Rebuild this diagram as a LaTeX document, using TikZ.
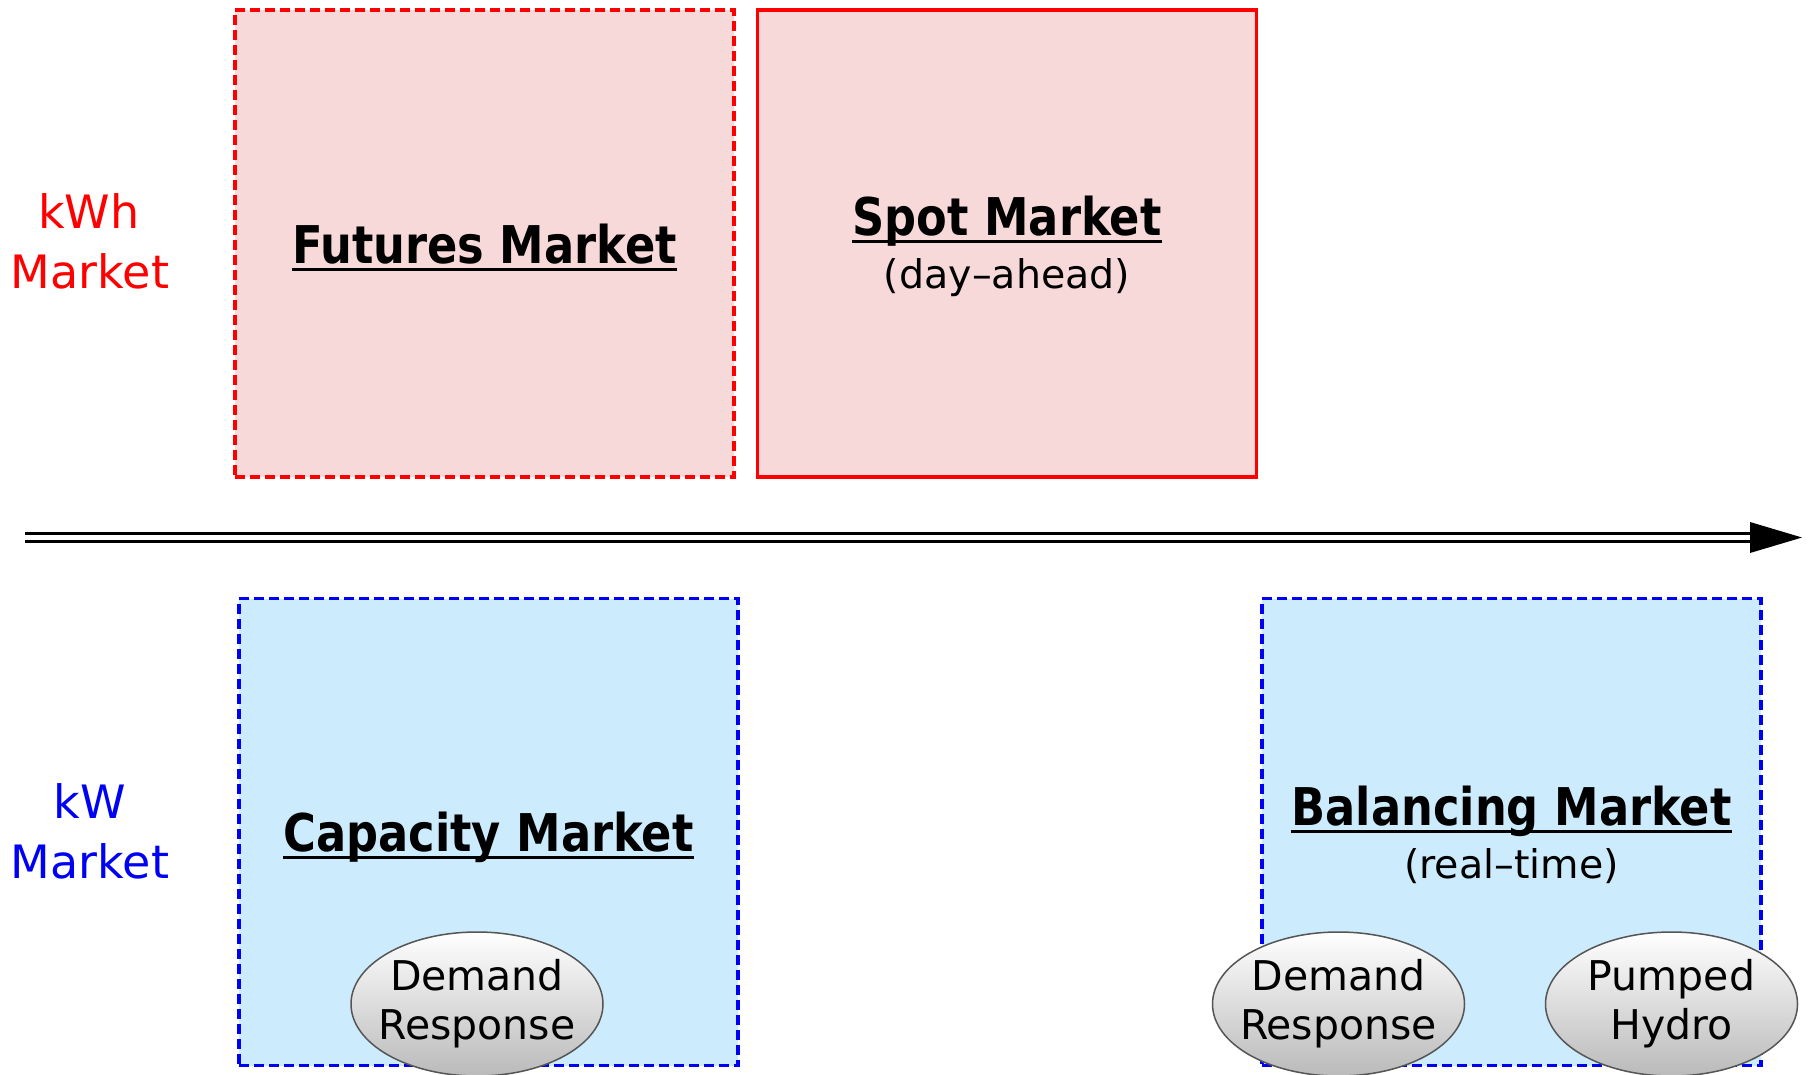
\documentclass[tikz,border=0pt]{standalone}
\usepackage{fontspec}
\setmainfont{DejaVu Sans}
\newfontfamily\ttlfont[FakeStretch=0.86]{DejaVu Sans}
\usetikzlibrary{shapes.geometric}
\definecolor{pinkfill}{HTML}{F7D9DA}
\definecolor{bluefill}{HTML}{CCEBFC}
\definecolor{redline}{HTML}{FF0000}
\definecolor{blueline}{HTML}{0000F5}
\definecolor{ellline}{HTML}{555555}
\tikzset{
  mbox/.style={rectangle, inner sep=0pt, line width=3.5pt, minimum width=499pt, minimum height=467pt},
  kwhbox/.style={mbox, draw=redline, fill=pinkfill},
  kwbox/.style={mbox, draw=blueline, fill=bluefill},
  dashbox/.style={dash pattern=on 10pt off 5pt},
  ttl/.style={inner sep=0pt, anchor=base, font=\ttlfont\bfseries\fontsize{52}{60}\selectfont},
  subttl/.style={inner sep=0pt, anchor=base, font=\fontsize{39.5}{46}\selectfont},
  uline/.style={line width=3pt},
  sidelbl/.style={inner sep=0pt, anchor=base, font=\fontsize{46}{60}\selectfont},
  resource/.style={ellipse, draw=ellline, line width=1.5pt, top color=white, bottom color=black!27,
     minimum width=252pt, minimum height=144pt, inner ysep=0pt, inner xsep=-14pt, align=center,
     font=\fontsize{41}{49}\selectfont},
}
\begin{document}
\begin{tikzpicture}[x=1pt,y=-1pt]
\useasboundingbox (0,0) rectangle (1812,1074);
\clip (0,0) rectangle (1812,1074);

% boxes
\node[kwhbox, dashbox] (fut) at (484.5,243.5) {};
\node[kwhbox] (spot) at (1007,243.5) {};
\node[kwbox, dashbox] (cap) at (488.5,832) {};
\node[kwbox, dashbox] (bal) at (1511.5,832) {};

% titles
\node[ttl] (futt) at (484.5,263) {Futures Market};
\draw[uline] ([yshift=-6pt]futt.base west) -- ([yshift=-6pt]futt.base east);
\node[ttl] (spott) at (1007,235) {Spot Market};
\draw[uline] ([yshift=-6pt]spott.base west) -- ([yshift=-6pt]spott.base east);
\node[subttl] (spots) at (1007,288) {(day–ahead)};
\node[ttl] (capt) at (488.5,851) {Capacity Market};
\draw[uline] ([yshift=-6pt]capt.base west) -- ([yshift=-6pt]capt.base east);
\node[ttl] (balt) at (1511.5,825) {Balancing Market};
\draw[uline] ([yshift=-6pt]balt.base west) -- ([yshift=-6pt]balt.base east);
\node[subttl] (bals) at (1511.5,878) {(real–time)};

% side labels
\node[sidelbl, text=redline] (kwh1) at (89,228) {kWh};
\node[sidelbl, text=redline] (kwh2) at (90,288) {Market};
\node[sidelbl, text=blueline] (kw1) at (90,818) {kW};
\node[sidelbl, text=blueline] (kw2) at (90,878) {Market};

% time axis
\coordinate (tstart) at (25,537.5);
\coordinate (tend) at (1750,537.5);
\coordinate (ttip) at (1802,537.5);
\draw[line width=3.2pt, double=white, double distance=5pt] (tstart) -- (tend);
\fill[black] (ttip) -- ([yshift=15.5pt]tend) -- ([yshift=-15.5pt]tend) -- cycle;

% resources
\node[resource] (cdr) at (477,1004) {Demand\\Response};
\node[resource] (bdr) at (1338.5,1004) {Demand\\Response};
\node[resource] (ph) at (1671.5,1004) {Pumped\\Hydro};
\end{tikzpicture}
\end{document}
